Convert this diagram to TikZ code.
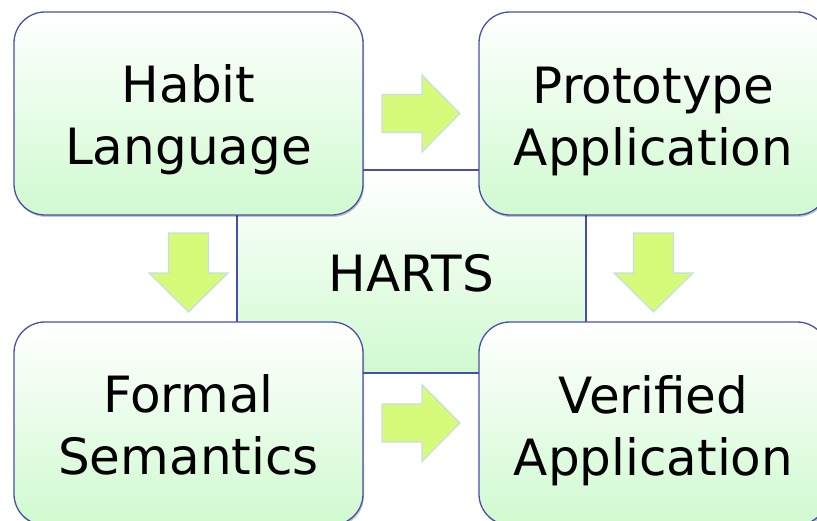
\documentclass[tikz,border=0pt]{standalone}
\usepackage{fontspec}
\setmainfont{DejaVu Sans}
\usetikzlibrary{calc,shadows}
\definecolor{boxline}{RGB}{72,78,172}
\definecolor{boxgreen}{RGB}{208,250,208}
\definecolor{arrowfill}{RGB}{214,250,122}
\definecolor{arrowline}{RGB}{200,222,230}
\tikzset{
  stagebox/.style={draw=boxline, line width=1.3pt, rounded corners=31pt,
    top color=white, middle color=boxgreen!72!white, bottom color=boxgreen,
    minimum width=349pt, minimum height=203pt, inner sep=0pt,
    drop shadow={shadow xshift=1pt, shadow yshift=-2pt, opacity=0.22, fill=black}},
  hubbox/.style={draw=boxline, line width=1.1pt,
    top color=white, middle color=boxgreen!72!white, bottom color=boxgreen,
    minimum width=349pt, minimum height=203pt, inner sep=0pt},
  boxlabel/.style={font=\fontsize{50}{62}\selectfont, align=center, inner sep=0pt},
  blockarrow/.style={fill=arrowfill, draw=arrowline, line width=1.2pt, line join=miter}
}
\begin{document}
\begin{tikzpicture}[x=1pt,y=-1pt]
\useasboundingbox (0,0) rectangle (817,521);
\clip (0,0) rectangle (817,521);
% hub
\node[hubbox] (harts) at (411.5,271.5) {};
\node[boxlabel, anchor=base] (hartst) at ($(harts.center)+(0,20.5)$) {HARTS};
% stages
\node[stagebox] (hl) at (188.5,113.5) {};
\node[stagebox] (pa) at (653.5,113.5) {};
\node[stagebox] (fs) at (188.5,423.5) {};
\node[stagebox] (va) at (653.5,423.5) {};
\node[boxlabel] (hlt) at ($(hl.center)+(0,7.6)$) {\strut Habit\\Language\strut};
\node[boxlabel] (pat) at ($(pa.center)+(0,8.6)$) {\strut Prototype\\Application\strut};
\node[boxlabel] (fst) at ($(fs.center)+(0,7.6)$) {\strut Formal\\Semantics\strut};
\node[boxlabel] (vat) at ($(va.center)+(0,8.1)$) {\strut Verified\\Application\strut};
% block arrows
\coordinate (a1) at ($(hl.east)!0.5!(pa.west)$);
\coordinate (a2) at ($(fs.east)!0.5!(va.west)+(0,-0.5)$);
\coordinate (a3) at ($(hl.south)!0.5!(fs.north)+(0,4)$);
\coordinate (a4) at ($(pa.south)!0.5!(va.north)+(0,4)$);
\foreach \c in {a1,a2}{
  \draw[blockarrow, shift={(\c)}] (-39,-19) -- (1,-19) -- (1,-38.5) -- (39,0)
    -- (1,38.5) -- (1,19) -- (-39,19) -- cycle;
}
\foreach \c in {a3,a4}{
  \draw[blockarrow, shift={(\c)}] (-20,-39.5) -- (20,-39.5) -- (20,0.5) -- (39.5,0.5)
    -- (0,39.5) -- (-39.5,0.5) -- (-20,0.5) -- cycle;
}
\end{tikzpicture}
\end{document}
